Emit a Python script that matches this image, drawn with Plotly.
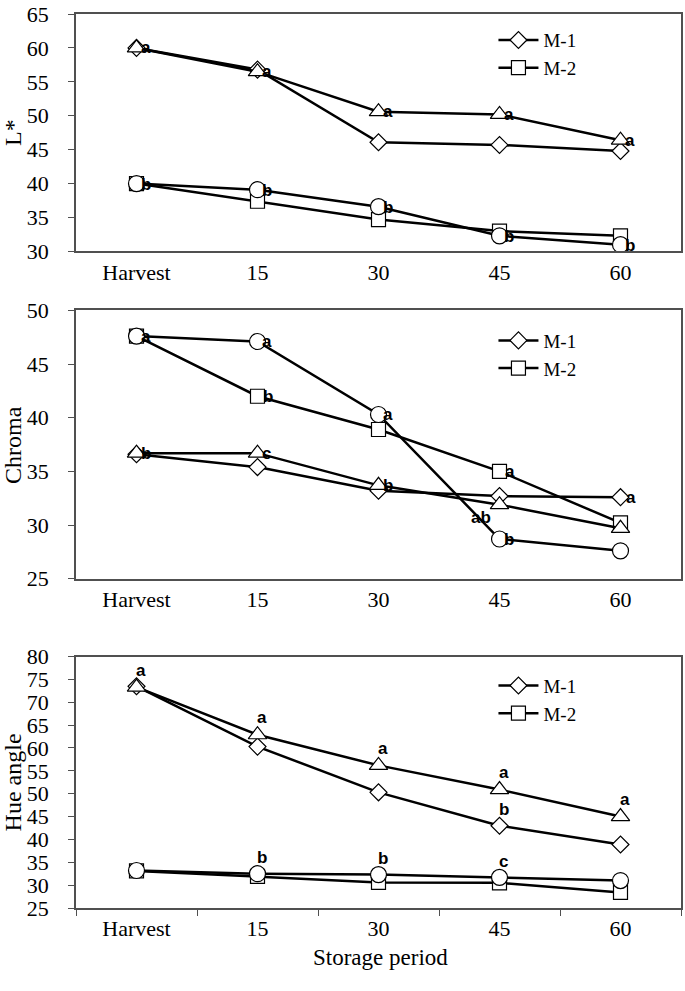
import plotly.graph_objects as go

categories = ["Harvest", "15", "30", "45", "60"]

# Panel 1: L*
L_m1 = [60.0, 56.8, 46.1, 45.7, 44.8]      # diamond
L_m2 = [40.0, 37.4, 34.7, 33.0, 32.3]      # square
L_m3 = [60.0, 56.5, 50.6, 50.2, 46.4]      # triangle
L_m4 = [40.0, 39.1, 36.6, 32.3, 31.0]      # circle
L_let_m3 = ["a", "a", "a", "a", "a"]
L_let_m4 = ["b", "b", "b", "b", "b"]

# Panel 2: Chroma
C_m1 = [36.6, 35.4, 33.2, 32.7, 32.6]
C_m2 = [47.6, 42.0, 38.9, 35.0, 30.2]
C_m3 = [36.7, 36.7, 33.7, 31.9, 29.7]
C_m4 = [47.6, 47.1, 40.3, 28.7, 27.6]
C_let_m1 = ["", "", "", "", "a"]
C_let_m2 = ["", "b", "", "a", ""]
C_let_m3 = ["b", "c", "b", "", ""]
C_let_m4 = ["a", "a", "a", "b", ""]
C_let_m4_extra = ["", "", "", "ab", ""]

# Panel 3: Hue angle
H_m1 = [73.5, 60.3, 50.3, 43.0, 38.9]
H_m2 = [33.1, 31.9, 30.6, 30.5, 28.4]
H_m3 = [73.3, 62.9, 56.2, 50.9, 45.0]
H_m4 = [33.2, 32.5, 32.3, 31.7, 31.0]
H_let_m1 = ["", "", "", "b", ""]
H_let_m3 = ["a", "a", "a", "a", "a"]
H_let_m4 = ["", "b", "b", "c", ""]

fig = go.Figure()

sym = {"M-1": ("diamond", 13), "M-2": ("square", 14), "M-3": ("triangle-up", 16), "M-4": ("circle", 16)}

def add_series(name, vals, ax, legend, show):
    s, sz = sym[name]
    fig.add_trace(go.Scatter(
        x=categories, y=vals, name=name, mode="lines+markers",
        xaxis="x" + ax, yaxis="y" + ax,
        line=dict(color="black", width=2.5),
        marker=dict(symbol=s, size=sz, color="white", line=dict(color="black", width=1.2)),
        showlegend=show, legend=legend,
    ))

panels = [
    ("", "legend", [L_m1, L_m2, L_m3, L_m4]),
    ("2", "legend2", [C_m1, C_m2, C_m3, C_m4]),
    ("3", "legend3", [H_m1, H_m2, H_m3, H_m4]),
]
for ax, lg, vals in panels:
    add_series("M-1", vals[0], ax, lg, True)
    add_series("M-2", vals[1], ax, lg, True)
    add_series("M-3", vals[2], ax, lg, False)
    add_series("M-4", vals[3], ax, lg, False)

letter_font = dict(family="Liberation Sans, Arial, sans-serif", size=17, color="black")

def add_letters(ax, vals, letters, dx, dy):
    for i, (v, t) in enumerate(zip(vals, letters)):
        if t:
            fig.add_annotation(x=i, y=v, xref="x" + ax, yref="y" + ax, text="<b>%s</b>" % t,
                               showarrow=False, xshift=dx, yshift=dy, font=letter_font)

add_letters("", L_m3, L_let_m3, 9, 0)
add_letters("", L_m4, L_let_m4, 9, -1)
add_letters("2", C_m1, C_let_m1, 10, 0)
add_letters("2", C_m2, C_let_m2, 10, 0)
add_letters("2", C_m3, C_let_m3, 9, 0)
add_letters("2", C_m4, C_let_m4, 9, 0)
add_letters("2", C_m4, C_let_m4_extra, -19, 22)
add_letters("3", H_m1, H_let_m1, 4, 16)
add_letters("3", H_m3, H_let_m3, 4, 17)
add_letters("3", H_m4, H_let_m4, 4, 16)

serif = "Liberation Serif, Times New Roman, serif"
tick_font = dict(family=serif, size=22, color="black")
line_col = "#505050"

def xax(ticks, anchor):
    return dict(type="category", range=[-0.5, 4.5], showline=True, linecolor=line_col, linewidth=1.5,
                mirror=True, ticks=ticks, tickson="boundaries", ticklen=6, tickcolor=line_col,
                showgrid=False, zeroline=False, tickfont=tick_font, anchor=anchor, ticklabelstandoff=0)

def yax(rng, dtick, dom, anchor):
    return dict(range=rng, dtick=dtick, domain=dom, showline=True, linecolor=line_col, linewidth=1.5,
                mirror=True, ticks="outside", ticklen=6, tickcolor=line_col, showgrid=False,
                zeroline=False, tickfont=tick_font, anchor=anchor, ticklabelstandoff=15)

leg_common = dict(font=dict(family=serif, size=19, color="black"), bgcolor="rgba(0,0,0,0)",
                  borderwidth=0, xanchor="left", yanchor="top", tracegroupgap=0, itemwidth=40)

fig.update_layout(
    width=685, height=991,
    margin=dict(l=76, r=2, t=12, b=83),
    plot_bgcolor="white", paper_bgcolor="white",
    xaxis=xax("", "y"),
    xaxis2=xax("", "y2"),
    xaxis3=xax("outside", "y3"),
    yaxis=yax([30, 65], 5, [0.7344, 1.0], "x"),
    yaxis2=yax([25, 50], 5, [0.3683, 0.6685], "x2"),
    yaxis3=yax([25, 80], 5, [0.0, 0.28125], "x3"),
    legend=dict(x=0.69, y=0.992, **leg_common),
    legend2=dict(x=0.69, y=0.656, **leg_common),
    legend3=dict(x=0.69, y=0.270, **leg_common),
)
fig.update_xaxes(domain=[0, 1])

title_font = dict(family=serif, size=24, color="black")
for txt, yv in [("L*", 0.867), ("Chroma", 0.518), ("Hue angle", 0.1406)]:
    fig.add_annotation(text=txt, xref="paper", yref="paper", x=-0.104, y=yv, textangle=-90,
                       showarrow=False, xanchor="center", yanchor="middle", font=title_font)
fig.add_annotation(text="Storage period", xref="paper", yref="paper", x=0.503, y=-0.055,
                   showarrow=False, xanchor="center", yanchor="middle",
                   font=dict(family=serif, size=23, color="black"))

fig.write_html("out.html", config={"displayModeBar": False},
               post_script="document.body.style.margin='0px';")
